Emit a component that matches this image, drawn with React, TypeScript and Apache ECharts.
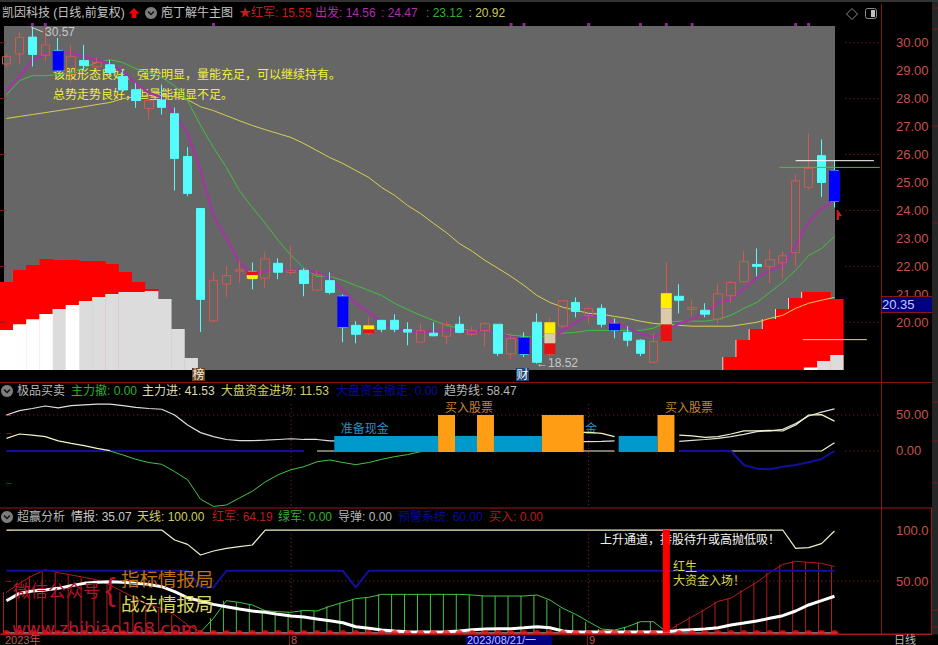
import React, { useEffect, useRef } from "react";
import * as echarts from "echarts";

const FONT = '"Liberation Sans","Noto Sans CJK SC",sans-serif';

// ---------- main pane: [open, close, low, high] ----------
const candles: number[][] = [
  [29.24, 29.5, 29.13, 29.6], [29.6, 30.19, 29.26, 30.37], [30.2, 29.58, 29.15, 30.57], [29.55, 29.92, 29.36, 30.53],
  [29.71, 29.0, 28.95, 30.17], [28.88, 29.5, 28.55, 29.92], [29.36, 29.18, 29.0, 29.92], [29.14, 29.29, 29.0, 29.47],
  [29.21, 28.93, 28.82, 29.38], [28.79, 28.31, 28.29, 29.06], [28.32, 27.93, 27.67, 28.55], [27.65, 27.93, 27.26, 28.18],
  [27.95, 27.69, 27.43, 28.5], [27.46, 25.86, 24.71, 27.68], [25.93, 24.61, 24.51, 26.26], [24.07, 20.82, 19.65, 24.07],
  [20.05, 21.5, 20.0, 21.82], [21.37, 21.67, 20.9, 22.0], [21.83, 21.88, 21.43, 22.21], [21.82, 21.56, 21.18, 22.14],
  [21.58, 22.27, 21.23, 22.5], [22.11, 21.79, 21.54, 22.29], [21.78, 21.86, 21.69, 22.75], [21.86, 21.39, 20.93, 21.93],
  [21.15, 21.69, 21.15, 21.86], [21.49, 21.07, 21.0, 21.79], [20.93, 19.82, 19.29, 21.0], [19.89, 19.57, 19.25, 20.04],
  [19.61, 19.89, 19.54, 20.19], [20.07, 19.75, 19.64, 20.07], [20.07, 19.75, 19.64, 20.29], [19.74, 19.65, 19.18, 20.0],
  [19.29, 19.7, 19.29, 19.96], [19.61, 19.52, 19.5, 20.0], [19.5, 19.92, 19.21, 20.04], [19.93, 19.64, 19.61, 20.21],
  [19.57, 19.7, 19.5, 19.86], [19.71, 19.95, 19.12, 20.0], [19.93, 18.89, 18.8, 19.93], [18.87, 19.42, 18.68, 19.62],
  [19.46, 18.86, 18.76, 19.64], [20.0, 18.57, 18.52, 20.32], [18.86, 20.0, 18.68, 20.18], [19.86, 20.77, 19.8, 20.77],
  [20.71, 20.39, 20.18, 20.89], [20.24, 20.49, 19.96, 20.54], [20.5, 19.93, 19.82, 20.64], [19.96, 19.71, 19.43, 20.14],
  [19.64, 19.36, 19.14, 19.86], [19.36, 18.89, 18.79, 19.39], [18.57, 19.31, 18.57, 19.61], [19.32, 21.04, 19.32, 22.14],
  [20.93, 20.79, 20.32, 21.36], [20.46, 20.52, 20.21, 20.79], [20.43, 20.29, 20.18, 20.68], [20.11, 21.02, 19.95, 21.36],
  [20.95, 21.42, 20.69, 21.48], [21.45, 22.17, 21.42, 22.54], [22.07, 22.0, 21.64, 22.64], [21.99, 22.24, 21.4, 22.61],
  [22.13, 22.38, 21.56, 22.54], [22.49, 25.06, 22.0, 25.29], [24.83, 25.5, 24.75, 26.75], [25.96, 25.0, 24.48, 26.54],
  [25.43, 24.32, 24.11, 25.79],
];
const purpleLine = [
  28.26, 28.79, 29.36, 29.61, 29.68, 29.64, 29.5, 29.39, 29.25, 28.96, 28.54, 28.21, 28.04, 27.46, 26.75, 25.43, 23.82, 23.0, 22.14, 21.71,
  21.82, 21.89, 21.86, 21.86, 21.79, 21.6, 21.14, 20.68, 20.36, 20.0, 19.79, 19.68, 19.64, 19.68, 19.71, 19.71, 19.64, 19.75, 19.61, 19.46,
  19.43, 19.25, 19.32, 19.71, 20.0, 20.25, 20.18, 20.0, 19.79, 19.61, 19.46, 19.71, 19.96, 20.11, 20.36, 20.71, 20.82, 21.21, 21.6, 21.86,
  22.04, 22.75, 23.57, 24.07, 24.36,
];
const greenLine = [
  28.14, 28.64, 28.82, 28.82, 28.86, 28.93, 29.11, 29.29, 29.39, 29.29, 29.07, 28.93, 28.75, 28.46, 27.93, 27.04, 26.25, 25.54, 24.71, 24.11,
  23.54, 22.93, 22.39, 21.93, 21.64, 21.64, 21.5, 21.32, 21.14, 20.96, 20.68, 20.46, 20.25, 20.07, 19.89, 19.79, 19.68, 19.71, 19.61, 19.54,
  19.5, 19.46, 19.54, 19.61, 19.64, 19.71, 19.71, 19.71, 19.71, 19.71, 19.79, 20.0, 20.04, 20.04, 20.04, 20.11, 20.25, 20.5, 20.71, 21.07,
  21.43, 21.86, 22.39, 22.64, 23.07,
];
const yellowLine = [
  27.29, 27.36, 27.43, 27.5, 27.57, 27.64, 27.71, 27.79, 27.86, 28.0, 28.07, 28.11, 28.11, 28.07, 27.96, 27.71, 27.57, 27.39, 27.21, 27.04,
  26.89, 26.75, 26.61, 26.39, 26.14, 25.89, 25.68, 25.43, 25.18, 24.82, 24.54, 24.18, 23.89, 23.54, 23.21, 22.82, 22.54, 22.21, 21.93, 21.64,
  21.32, 20.96, 20.71, 20.54, 20.43, 20.32, 20.29, 20.21, 20.14, 20.04, 19.96, 19.93, 19.89, 19.86, 19.86, 19.86, 19.86, 19.93, 20.0, 20.14,
  20.25, 20.5, 20.68, 20.79, 20.89,
];
// [index, top, bottom]
const blueBlocks = [[4, 29.71, 29.0], [26, 20.93, 19.82], [40, 19.46, 18.86], [47, 19.96, 19.71], [64, 25.43, 24.32]];
const redBlocks = [[19, 21.82, 21.69], [28, 19.75, 19.61], [42, 19.25, 18.86], [51, 19.93, 19.32]];
const yellowBlocks = [[19, 21.69, 21.56], [28, 19.89, 19.75], [42, 20.0, 19.61], [51, 21.04, 20.5]];
const tanBlocks = [[42, 19.61, 19.25], [51, 20.5, 19.93]];
const signalIdx = [2, 3, 16, 39, 40, 45, 49, 51, 53, 61, 62];
const priceTicks = [30, 29, 28, 27, 26, 25, 24, 23, 22, 21, 20];
const priceDotted = [30, 28, 26, 24, 22, 20];

// stepped histogram at the foot of the main pane: [slot, height]
const histRed = [[0, 88], [1, 100], [2, 105], [3, 111], [4, 110], [5, 110], [6, 109], [7, 109], [8, 106], [9, 98], [10, 88], [11, 81],
  [55, 13], [56, 30], [57, 41], [58, 51], [59, 61], [60, 72], [61, 78], [62, 78], [63, 71]];
const histRise = [[1, 100], [2, 105], [3, 111], [55, 13], [56, 30], [57, 41], [58, 51], [59, 61], [60, 72], [61, 78]];
const histWhite = [[0, 40], [1, 45.7], [2, 50.7], [3, 56], [5, 65], [61, 2.5]];
const histGrey = [[4, 61], [6, 69], [7, 73], [8, 76], [9, 78], [10, 78], [11, 79], [12, 71], [13, 41], [14, 12], [62, 9], [63, 15]];

// ---------- second pane ----------
const trendLine: (number | null)[] = [
  50, 56, 59, 62.5, 60, 63, 64, 65, 65, 63, 60.6, 59, 58, 50, 36, 25.5, 20, 16, 14.4, 14.4,
  15, 16, 17, 16, 16, 14, 14, null, null, null, null, null, null, null, null, null, null, null, null, null,
  null, null, null, null, 13, 13, 13.4, 14, null, null, null, null, 13.4, 14.8, 16, 17.6, 20, 23, 27, 28,
  30, 38, 48.6, 54, 58.47,
];
const mainInLine: (number | null)[] = [
  17.6, 23.6, 22, 20, 14, 10.6, 7.4, 3.7, 0.5, null, null, null, null, null, null, null, null, null, null, null,
  null, null, null, null, null, null, null, null, null, null, null, null, null, null, null, null, null, null, null, null,
  null, null, null, null, 26, 26, 24.5, 20, null, null, null, null, 22, 21, 19, 20, 23.6, 28, 28, 28.7,
  27.8, 36, 50, 50.5, 41.53,
];
const mainOutLine: (number | null)[] = [
  null, null, null, null, null, null, null, null, 0, -5.5, -11.6, -16, -18.5, -28.7, -40, -67, -77, -75, -65.3, -56,
  -43, -33, -26, -21.8, -15, -12.5, -16, -19, -16, -11.6, -7.9, -5, -1, 0,
];
const bigInLine: (number | null)[] = [
  null, null, null, null, null, null, null, null, null, null, null, null, null, null, null, null, null, null, null, null,
  null, null, null, null, 0, 0, 0, null, null, null, null, null, null, null, null, null, null, null, null, null,
  null, null, null, null, 0, 0, 0, 0, null, null, null, null, 0, 0, 0, 0, 0, 0, 0, 0,
  0, 0, 0, 0, 11.53,
];
const bigOutLine: (number | null)[] = [
  0, 0, 0, 0, 0, 0, 0, 0, 0, 0, 0, 0, 0, 0, 0, 0, 0, 0, 0, 0,
  0, 0, 0, 0, null, null, null, null, null, null, null, null, null, null, null, null, null, null, null, null,
  null, null, null, null, null, null, null, null, null, null, null, null, 0, 0, 0, 0, 0, -19.4, -24.5, -25.5,
  -21.8, -19.4, -15.7, -11, 0,
];
// [from, to] in candle-index units
const cashBoxes = [[25.34, 33.36], [34.67, 36.37], [37.68, 41.38], [47.32, 50.32]];
const buyBoxes = [[33.36, 34.67], [36.37, 37.68], [41.38, 44.62], [50.32, 51.63]];
const cashBoxTop = 21;
const buyBoxTop = 50;
const boxBottom = -1.4;

// ---------- third pane ----------
const intelLine = [
  30.7, 37.9, 40.2, 41.2, 42.8, 45.4, 47.7, 48.7, 49.3, 48.7, 47.7, 46.7, 44.4, 39.5, 33.6, 30.4, 27.1, 24.8, 22.5, 20.6,
  19.3, 17.3, 15.7, 14.7, 12.7, 11.1, 9.1, 5.2, 3.6, 1.9, 1, 0.3, 0, 0, 0.3, 1, 2.3, 2.9, 3.3, 3.3,
  4.2, 5.2, 4.2, 1, 0, 0, 0, 0, 0, 0, 0, 0.3, 1.6, 2.3, 2.9, 4.2, 6.9, 8.8, 10.8, 13.4,
  16, 20.6, 26.5, 30.7, 35.07,
];
const antennaLine = [
  100, 100, 100, 100, 100, 100, 100, 100, 100, 100, 100, 100, 100, 90.2, 85.9, 75.5, 79.4, 82, 83.7, 85.3,
  100, 100, 100, 100, 100, 100, 100, 100, 100, 100, 100, 100, 100, 100, 100, 100, 100, 100, 100, 100,
  100, 100, 100, 100, 100, 100, 100, 100, 100, 100, 100, 100, 100, 100, 100, 100, 100, 100, 100, 100,
  100, 82, 82.7, 86.6, 99,
];
const warnLine = [
  60, 60, 60, 60, 60, 60, 60, 60, 60, 60, 60, 60, 60, 60, 60, 44, 43.8, 60, 60, 60,
  60, 60, 60, 60, 60, 60, 60, 43.8, 60, 60, 60, 60, 60, 60, 60, 60, 60, 60, 60, 60,
  60, 60, 60, 60, 60, 60, 60, 60, 60, 60, 60, 60, 60, 60, 60, 60, 60, 60, 60, 60,
  60, 60, 60, 60, 60,
];
const redArmyLeft = [38.9, 47.7, 55.2, 61, 58.2, 55.9, 53.6, 51, 46, 39.5, 33, 26.5, 23.2, 16.7, 6.9, 0];
const redArmyRight = [0, 7.8, 15, 22.2, 30, 33.3, 41.2, 48.7, 58.2, 66.3, 69.3, 68.3, 67.3, 64.19]; // from index 51
const greenArmy = [
  0, 13.4, 30.7, 29, 26.5, 20.9, 19.9, 19.3, 21.2, 20.6, 25.2, 29, 32.7, 34, 36.9, 36.9, 36.9, 36.9, 36.9, 36.9, 36.9,
  36.3, 35.3, 35.3, 35.3, 35.3, 36.3, 31.4, 23.2, 17.3, 10.1, 2.9, 1.9, 5.2, 10.1, 10.1, 0.3,
]; // from index 15
const bigRedIndex = 51;
const bigRedValue = 100;

const pts = (a: (number | null)[], from = 0) => a.map((v, i) => [i + from, v]);
const allIdx = candles.map((_, i) => i);

const text = (t: string, x: number, y: number, fill: string, size = 12, z = 10, extra: any = {}) => ({
  type: "text", z, silent: true,
  style: { text: t, x, y, fill, fontSize: size, fontFamily: FONT, verticalAlign: "middle", ...extra },
});
const rect = (x: number, y: number, width: number, height: number, fill: string, z = 10, extra: any = {}) => ({
  type: "rect", z, silent: true, shape: { x, y, width, height, ...extra }, style: { fill },
});
const hline = (x1: number, y1: number, x2: number, y2: number, stroke: string, z = 10, lineWidth = 1) => ({
  type: "line", z, silent: true, shape: { x1, y1, x2, y2 }, style: { stroke, lineWidth },
});
const chevronIcon = (cx: number, cy: number) => [
  { type: "circle", z: 11, silent: true, shape: { cx, cy, r: 6 }, style: { fill: "#7d7d7d" } },
  { type: "polyline", z: 12, silent: true, shape: { points: [[cx - 3, cy - 1.5], [cx, cy + 1.5], [cx + 3, cy - 1.5]] }, style: { fill: "none", stroke: "#111", lineWidth: 1.5 } },
];

const blockSeries = (data: number[][], color: string, width: number, xAxisIndex: number, yAxisIndex: number) => ({
  type: "custom", xAxisIndex, yAxisIndex, z: 5, clip: false, silent: true,
  data,
  encode: { x: 0, y: [1, 2] },
  renderItem: (_: any, api: any) => {
    const top = api.coord([api.value(0), api.value(1)]);
    const bot = api.coord([api.value(0), api.value(2)]);
    return { type: "rect", shape: { x: top[0] - width / 2, y: top[1], width, height: bot[1] - top[1] }, style: { fill: color } };
  },
});
const rangeBoxSeries = (data: number[][], top: number, bottom: number, color: string, xAxisIndex: number, yAxisIndex: number) => ({
  type: "custom", xAxisIndex, yAxisIndex, z: 5, silent: true,
  data,
  encode: { x: [0, 1] },
  renderItem: (_: any, api: any) => {
    const a = api.coord([api.value(0), top]);
    const b = api.coord([api.value(1), bottom]);
    return { type: "rect", shape: { x: a[0], y: a[1], width: b[0] - a[0], height: b[1] - a[1] }, style: { fill: color } };
  },
});
const line = (data: any[], color: string, width: number, xAxisIndex: number, yAxisIndex: number, extra: any = {}) => ({
  type: "line", xAxisIndex, yAxisIndex, data, silent: true, symbol: "none", connectNulls: false, z: 3,
  lineStyle: { color, width }, ...extra,
});
const dotted = (data: any[], xAxisIndex: number, yAxisIndex: number) =>
  line(data, "#8c2a2a", 1, xAxisIndex, yAxisIndex, { z: 2, lineStyle: { color: "#8c2a2a", width: 1, type: [1, 3] } });
const histBar = (data: number[][], color: string, xAxisIndex: number, yAxisIndex: number) => ({
  type: "bar", xAxisIndex, yAxisIndex, data, barWidth: 13.6, barGap: "-100%", z: 2, itemStyle: { color }, silent: true,
});

const RED_AXIS = "#8a1515";
const RED_TXT = "#c8524a";

export default function App() {
  const ref = useRef<HTMLDivElement>(null);
  useEffect(() => {
    document.body.style.margin = "0";
    document.body.style.background = "#000";
    const chart = echarts.init(ref.current!, undefined, { renderer: "svg" });
    const gridLeft = -2.2;
    const gridWidth = 881.96;
    const xMin = -0.5;
    const xMax = 67.5;
    const valueX = (gridIndex: number) => ({ type: "value", gridIndex, min: xMin, max: xMax, show: false });
    const slots = Array.from({ length: 64 }, (_, i) => String(i));
    const histX = (gridIndex: number) => ({ type: "category", gridIndex, data: slots, show: false });
    const histY = (gridIndex: number) => ({ type: "value", gridIndex, min: 0, max: 344, show: false });
    const yLabel = {
      color: RED_TXT, fontSize: 13, fontFamily: FONT, margin: 15,
      formatter: (v: number) => (v === 100 ? "100.0" : v.toFixed(2)),
    };
    const yBase = (gridIndex: number, min: number, max: number, labels: number[], ticks: number[]) => ({
      type: "value", gridIndex, min, max, position: "right", offset: 1.24, scale: true,
      splitLine: { show: false }, axisLine: { show: false },
      axisTick: { show: true, length: 5, lineStyle: { color: RED_AXIS }, customValues: ticks },
      axisLabel: { ...yLabel, customValues: labels },
    });

    chart.setOption({
      animation: false,
      backgroundColor: "#000",
      grid: [
        { left: gridLeft, top: 26, width: gridWidth, height: 344 },
        { left: -1.2, top: 26, width: 844.8, height: 344 },
        { left: gridLeft, top: 384, width: gridWidth, height: 123 },
        { left: gridLeft, top: 508, width: gridWidth, height: 126 },
        { left: -3.87, top: 26, width: 844.8, height: 344 },
        { left: -3.0, top: 26, width: 844.8, height: 344 },
      ],
      xAxis: [
        { type: "category", gridIndex: 0, data: Array.from({ length: 68 }, (_, i) => String(i)), show: false },
        valueX(0),
        histX(1),
        valueX(2),
        valueX(3),
        histX(4),
        histX(5),
      ],
      yAxis: [
        yBase(0, 18.294, 30.597, priceTicks, priceTicks),
        histY(1),
        yBase(2, -77.8, 93.06, [50, 0], [50, 25, 0, -45]),
        yBase(3, -1.96, 121.6, [100, 50], [100, 50]),
        histY(4),
        histY(5),
      ],
      series: [
        // histogram: the rising steps carry a pale left edge
        histBar(histRise, "#ffffff", 5, 4),
        histBar(histRise, "#ff0000", 6, 5),
        histBar(histRed, "#ff0000", 2, 1),
        histBar(histGrey, "#dcdcdc", 2, 1),
        histBar(histWhite, "#ffffff", 2, 1),
        // price level dots and left-edge ticks
        ...priceDotted.map((p) => dotted([[64.85, p], [67.5, p]], 1, 0)),
        ...priceDotted.map((p) => line([[-0.5, p], [-0.1, p]], RED_AXIS, 1, 1, 0)),
        // moving averages sit beneath the candles
        line(pts(yellowLine), "#d8d050", 1, 1, 0),
        line(pts(greenLine), "#3fc23f", 1, 1, 0),
        line(pts(purpleLine), "#a038a0", 2.4, 1, 0),
        // candles
        {
          type: "candlestick", xAxisIndex: 0, yAxisIndex: 0, data: candles, barWidth: 9, silent: true, clip: false, z: 4,
          itemStyle: { color: "transparent", color0: "#54fcfc", borderColor: "#d05a50", borderColor0: "#54fcfc", borderWidth: 1 },
        },
        blockSeries(blueBlocks, "#0000ff", 11, 1, 0),
        blockSeries(redBlocks, "#e81010", 11, 1, 0),
        blockSeries(yellowBlocks, "#ffee00", 11, 1, 0),
        blockSeries(tanBlocks, "#dccbab", 11, 1, 0),
        // horizontal markers
        line([[61, 25.78], [67.05, 25.78]], "#ffffff", 1, 1, 0, { z: 6 }),
        line([[59.73, 25.54], [67.5, 25.54]], "#3fc23f", 1, 1, 0, { z: 6 }),
        line([[61.55, 19.38], [66.5, 19.38]], "#e8d870", 1, 1, 0, { z: 6 }),
        // top signal ticks
        {
          type: "scatter", xAxisIndex: 1, yAxisIndex: 0, data: signalIdx.map((i) => [i, 30.65]), clip: false, silent: true,
          symbol: "rect", symbolSize: [3, 3], itemStyle: { color: "#b52fb5" },
        },

        // pane 2
        dotted([[-0.1, 50], [67.5, 50]], 3, 2),
        dotted([[64.85, 0], [67.5, 0]], 3, 2),
        dotted([[22, 65], [22, -77.8]], 3, 2),
        dotted([[45, 65], [45, -77.8]], 3, 2),
        line(pts(bigInLine), "#f2f2c8", 1.2, 3, 2),
        line(pts(bigOutLine), "#10109e", 2, 3, 2),
        line(pts(mainOutLine), "#44c444", 1, 3, 2),
        line(pts(trendLine), "#dedede", 1.2, 3, 2),
        line(pts(mainInLine), "#f4f4c0", 1.2, 3, 2),
        rangeBoxSeries(cashBoxes, cashBoxTop, boxBottom, "#0099cc", 3, 2),
        rangeBoxSeries(buyBoxes, buyBoxTop, boxBottom, "#ff9e14", 3, 2),

        // pane 3
        dotted([[-0.1, 50], [67.5, 50]], 4, 3),
        dotted([[22, 96], [22, 0]], 4, 3),
        dotted([[45, 96], [45, 0]], 4, 3),
        line([[-0.1, -1], [64.2, -1]], "#e8e8e8", 1, 4, 3),
        { type: "bar", xAxisIndex: 4, yAxisIndex: 3, data: pts(greenArmy, 15), barWidth: 1, barGap: "-100%", z: 3, itemStyle: { color: "#44c444" }, silent: true },
        { type: "bar", xAxisIndex: 4, yAxisIndex: 3, data: pts(redArmyLeft), barWidth: 1, barGap: "-100%", z: 3, itemStyle: { color: "#b81c1c" }, silent: true },
        { type: "bar", xAxisIndex: 4, yAxisIndex: 3, data: pts(redArmyRight, 51), barWidth: 1, barGap: "-100%", z: 3, itemStyle: { color: "#b81c1c" }, silent: true },
        line(pts(greenArmy, 15), "#44c444", 1, 4, 3),
        line(pts(redArmyLeft), "#b81c1c", 1, 4, 3),
        line(pts(redArmyRight, 51), "#b81c1c", 1, 4, 3),
        line(pts(antennaLine), "#f0f0c8", 1.2, 4, 3),
        line(pts(warnLine), "#10109e", 2, 4, 3),
        line(pts(intelLine), "#ffffff", 3, 4, 3),
        { type: "bar", xAxisIndex: 4, yAxisIndex: 3, data: [[bigRedIndex, bigRedValue]], barWidth: 7, barGap: "-100%", z: 5, itemStyle: { color: "#ff0000" }, silent: true },
        {
          type: "scatter", xAxisIndex: 4, yAxisIndex: 3, data: allIdx.map((i) => [i, -1.96]), symbol: "circle", symbolSize: 8, silent: true,
          itemStyle: { color: "#ff1010" }, z: 5,
        },
      ],
      graphic: {
        elements: [
          rect(4, 26, 831, 344, "#666666", 1),
          text("该股形态良好，强势明显，量能充足，可以继续持有。", 53, 75, "#f0f040", 12, 1),
          text("总势走势良好，但量能稍显不足。", 53, 95, "#f0f040", 12, 1),
          text("准备现金", 340.7, 429, "#2a8fc0", 12, 1),
          text("准备现金", 549, 429, "#2a8fc0", 12, 1),
          text("买入股票", 445, 408, "#c88332", 12, 1),
          text("买入股票", 665, 408, "#c88332", 12, 1),
          text("上升通道，持股待升或高抛低吸！", 600, 540, "#f4f4f4", 12, 1),

          // frame
          rect(0, 0, 938, 2, "#333333"),
          rect(932, 0, 6, 645, "#262626", 9),
          hline(881.5, 4, 881.5, 634, RED_AXIS),
          hline(0, 382.5, 932, 382.5, RED_AXIS),
          hline(0, 508, 932, 508, "#a01818"),
          hline(931.5, 508, 931.5, 634, "#a01818"),
          rect(0, 634.5, 938, 11, "#000000", 9),
          rect(0, 633.5, 932, 1.5, "#b01414", 10),
          ...[8, 29, 126, 223, 402, 441, 483, 610, 627].map((y) => hline(933, y, 938, y, "#7c1818", 10)),

          // header row
          text("凯因科技 (日线,前复权)", 2, 13, "#c4c4c4"),
          { type: "polygon", z: 11, silent: true, shape: { points: [[134, 8], [139.5, 13.5], [136.5, 13.5], [136.5, 18], [131.5, 18], [131.5, 13.5], [128.5, 13.5]] }, style: { fill: "#f00000" } },
          ...chevronIcon(151, 13),
          text("庖丁解牛主图", 161, 13, "#c4c4c4"),
          text("★红军: 15.55", 239, 13, "#c81c1c"),
          text("出发: 14.56", 315, 13, "#b02cb0"),
          text(": 24.47", 381, 13, "#b02cb0"),
          text(": 23.12", 426, 13, "#2fb02f"),
          text(": 20.92", 468.5, 13, "#c8c860"),
          { type: "polygon", z: 11, silent: true, shape: { points: [[852, 8.5], [857.5, 14], [852, 19.5], [846.5, 14]] }, style: { fill: "none", stroke: "#8a8a8a", lineWidth: 1 } },
          { type: "rect", z: 11, silent: true, shape: { x: 865.5, y: 8.5, width: 11, height: 10, r: 2 }, style: { fill: "none", stroke: "#8a8a8a", lineWidth: 1 } },
          rect(871, 10, 4, 7, "#c0c0c0", 11),

          // main pane labels
          hline(31, 27, 43, 32, "#d0d0d0"),
          text("30.57", 45, 32, "#c8c8c8"),
          text("←18.52", 536, 363, "#c8c8c8"),
          { type: "polygon", z: 11, silent: true, shape: { points: [[838, 210], [842, 216], [839, 216], [839, 220], [836.5, 220], [836.5, 210]] }, style: { fill: "#c02020" } },
          rect(192, 368, 13, 13, "#6b4020", 10),
          text("榜", 192.5, 375, "#f4f0e0", 12),
          rect(516, 368, 13, 13, "#1a4a7a", 10),
          text("财", 516.5, 375, "#f4f8ff", 12),
          rect(882, 297, 50, 15, "#000080", 10),
          hline(882, 296.5, 932, 296.5, RED_AXIS),
          hline(882, 312.5, 932, 312.5, RED_AXIS),
          text("20.35", 882, 304.5, "#c8c8ff", 13),

          // pane 2 header
          ...chevronIcon(7, 391),
          text("极品买卖", 17, 391, "#b8b8b8"),
          text("主力撤: 0.00", 71, 391, "#2fb02f"),
          text("主力进: 41.53", 142, 391, "#dcdcb8"),
          text("大盘资金进场: 11.53", 221, 391, "#d0d064"),
          text("大盘资金撤走: 0.00", 336, 391, "#0a0aa0"),
          text("趋势线: 58.47", 444, 391, "#b8b8b8"),

          // pane 3 header
          ...chevronIcon(7, 517),
          text("超赢分析", 17, 517, "#b8b8b8"),
          text("情报: 35.07", 71, 517, "#c8c8c8"),
          text("天线: 100.00", 137, 517, "#d0d064"),
          text("红军: 64.19", 212, 517, "#b81c1c"),
          text("绿军: 0.00", 278, 517, "#2fb02f"),
          text("导弹: 0.00", 338, 517, "#b8b8b8"),
          text("预警系统: 60.00", 398, 517, "#0a0aa0"),
          text("买入: 0.00", 489, 517, "#b81c1c"),

          // pane 3 notes and watermark
          text("红生", 673, 567, "#d8d850"),
          text("大资金入场！", 673, 581, "#d8d850"),
          text("微信公众号", 13, 591, "#b01428", 17.5),
          text("{", 105, 589, "#b01428", 32),
          text("指标情报局", 121, 579, "#c07010", 18.5),
          text("战法情报局", 121, 604, "#d8d860", 18.5),
          text("www.zhibiao168.com", 12, 628.5, "#c0142e", 17.5, 10, { fontFamily: '"DejaVu Sans"' }),

          // foot row
          text("2023年", 5, 640, "#c8524a", 11),
          hline(289.5, 634, 289.5, 645, "#8a1515"),
          text("8", 291, 640, "#c8524a", 11),
          rect(466, 635, 86, 10, "#000080", 10),
          text("2023/08/21/一", 467, 640, "#c0c0ff", 11),
          hline(587.5, 634, 587.5, 645, "#8a1515"),
          text("9", 589, 640, "#c8524a", 11),
          text("日线", 894, 640, "#b8b8b8", 11),
        ],
      },
    });
    return () => chart.dispose();
  }, []);
  return <div ref={ref} style={{ width: 938, height: 645, background: "#000" }} />;
}
